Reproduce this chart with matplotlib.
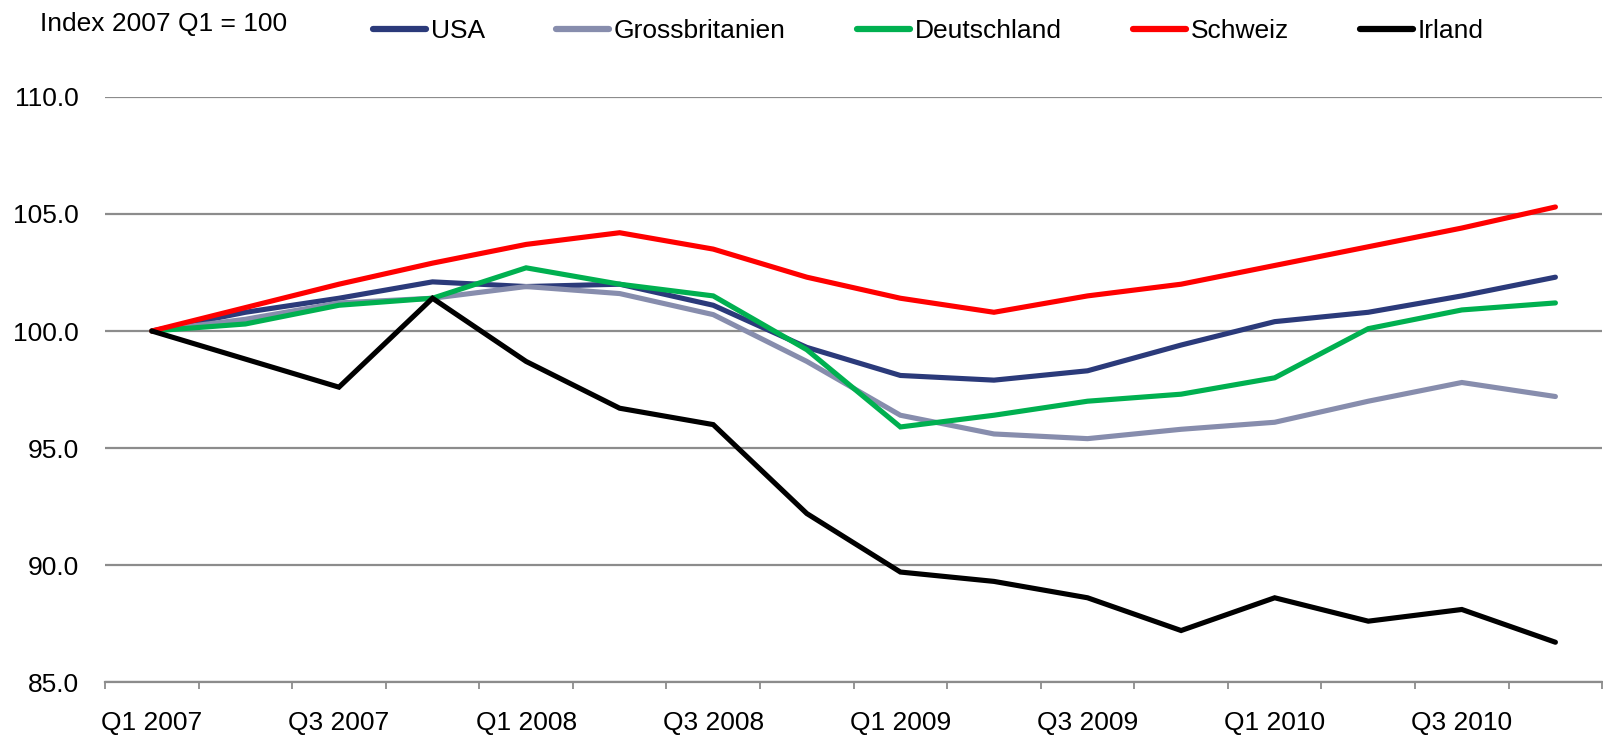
import numpy as np
import matplotlib.pyplot as plt

quarters = ["Q1 2007", "Q2 2007", "Q3 2007", "Q4 2007",
            "Q1 2008", "Q2 2008", "Q3 2008", "Q4 2008",
            "Q1 2009", "Q2 2009", "Q3 2009", "Q4 2009",
            "Q1 2010", "Q2 2010", "Q3 2010", "Q4 2010"]

usa = [100.0, 100.8, 101.4, 102.1, 101.9, 102.0, 101.1, 99.3,
       98.1, 97.9, 98.3, 99.4, 100.4, 100.8, 101.5, 102.3]
gb = [100.0, 100.5, 101.2, 101.4, 101.9, 101.6, 100.7, 98.7,
      96.4, 95.6, 95.4, 95.8, 96.1, 97.0, 97.8, 97.2]
de = [100.0, 100.3, 101.1, 101.4, 102.7, 102.0, 101.5, 99.2,
      95.9, 96.4, 97.0, 97.3, 98.0, 100.1, 100.9, 101.2]
ch = [100.0, 101.0, 102.0, 102.9, 103.7, 104.2, 103.5, 102.3,
      101.4, 100.8, 101.5, 102.0, 102.8, 103.6, 104.4, 105.3]
ie = [100.0, 98.8, 97.6, 101.4, 98.7, 96.7, 96.0, 92.2,
      89.7, 89.3, 88.6, 87.2, 88.6, 87.6, 88.1, 86.7]

series = [("USA", usa, "#2B3A7A"),
          ("Grossbritanien", gb, "#878DAD"),
          ("Deutschland", de, "#00B050"),
          ("Schweiz", ch, "#FF0000"),
          ("Irland", ie, "#000000")]

plt.rcParams["font.family"] = ["Liberation Sans", "DejaVu Sans"]

FONT = 19

fig = plt.figure(figsize=(16.03, 7.37), dpi=100)
ax = fig.add_axes([0.0655, 0.0746, 0.934, 0.7938])

x = np.arange(len(quarters))
for name, vals, col in series:
    ax.plot(x, vals, color=col, linewidth=3.7, label=name,
            solid_capstyle="round", solid_joinstyle="miter")

ax.set_xlim(-0.5, len(quarters) - 0.5)
ax.set_ylim(85, 110)
yt = np.arange(85, 110.1, 5)
ax.set_yticks(yt)
ax.set_yticklabels([f"{v:.1f}" for v in yt], fontsize=FONT)
ax.yaxis.grid(True, color="#8C8C8C", linewidth=1.6)
ax.set_axisbelow(True)
ax.tick_params(axis="y", length=0, pad=19)

ax.set_xticks(x[::2])
ax.set_xticklabels(quarters[::2], fontsize=FONT)
ax.set_xticks(np.arange(-0.5, len(quarters), 1), minor=True)
ax.tick_params(axis="x", which="major", length=0, pad=21)
ax.tick_params(axis="x", which="minor", length=5, width=1.3, color="#8C8C8C")

for s in ["top", "right", "left"]:
    ax.spines[s].set_visible(False)
ax.spines["bottom"].set_color("#8C8C8C")
ax.spines["bottom"].set_linewidth(1.6)

fig.text(0.025, 0.968, "Index 2007 Q1 = 100", fontsize=FONT, va="center", ha="left")
leg = fig.legend(loc="center left", bbox_to_anchor=(0.233, 0.958), ncol=5, frameon=False,
                 fontsize=FONT, handlelength=2.0, handletextpad=0.18,
                 columnspacing=2.7, borderaxespad=0, borderpad=0)
for h in leg.get_lines():
    h.set_linewidth(4.5)

fig.savefig("out.png", dpi=100)
